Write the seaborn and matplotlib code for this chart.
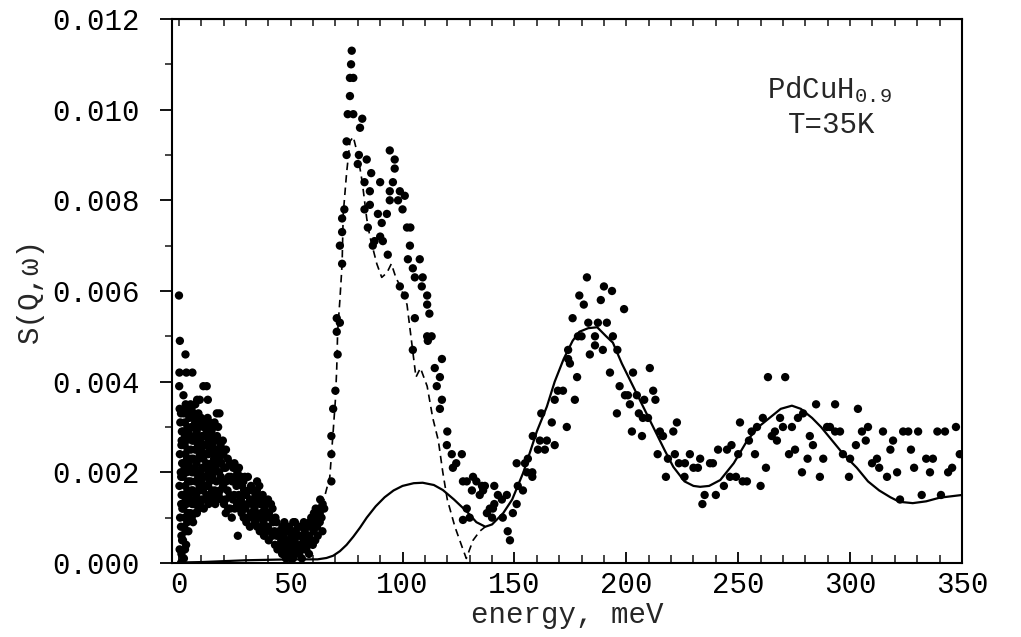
import matplotlib
matplotlib.use("Agg")
import matplotlib.pyplot as plt
import numpy as np
import pandas as pd
import seaborn as sns
from matplotlib.ticker import MultipleLocator, FormatStrFormatter

# measured points, low-energy cluster (0-66 meV)
energy_low = [
    1.0, 0.4, 1.2, 0.6, 1.1, 0.3, 0.9, 0.5, 1.3, 0.7, 0.4, 0.2, 0.3, 0.5, 0.1,
    2.3, 1.9, 2.4, 2.0, 2.5, 1.8, 2.2, 2.6, 1.9, 2.3, 2.1, 3.0,
    3.3, 3.8, 3.4, 3.9, 3.5, 3.7, 3.2, 3.9, 3.6, 3.4,
    5.2, 4.8, 5.3, 4.9, 5.4, 5.0, 4.7, 5.3,
    6.4, 6.8, 6.3, 6.9, 6.5, 6.7, 6.2, 6.6, 6.1,
    8.1, 7.8, 8.3, 7.9, 8.4, 8.0, 7.7, 8.2,
    9.6, 9.3, 9.8, 9.4, 9.7, 9.2, 9.4,
    11.2, 10.8, 11.3, 10.9, 11.4, 11.0, 11.0,
    12.4, 12.8, 12.3, 12.7, 12.5, 12.9, 12.5,
    14.1, 13.8, 14.3, 13.9, 14.2, 13.7, 13.0,
    15.6, 15.3, 15.8, 15.4, 15.7,
    17.2, 16.8, 17.3, 16.9, 17.1, 17.0,
    18.4, 18.8, 18.3, 18.7, 18.2,
    20.2, 19.8, 20.3, 19.9, 19.7,
    22.1, 21.8, 22.3, 21.9,
    23.7, 24.2, 23.9, 24.3,
    26.4, 26.1, 25.8, 26.2,
    28.1, 27.8, 28.3, 27.9,
    30.2, 29.8, 30.1, 29.5,
    31.8, 32.2, 31.9, 32.3,
    34.1, 33.8, 34.3, 35.0,
    36.2, 35.8, 36.3, 36.0,
    38.1, 37.8, 38.3, 37.5,
    40.2, 39.8, 40.3, 39.9,
    41.8, 42.2, 41.9,
    44.1, 43.8, 43.7,
    46.2, 45.8, 46.3,
    47.9, 48.3, 48.0,
    50.1, 49.8, 50.3, 51.0,
    52.2, 51.8, 52.3, 51.9,
    53.8, 54.2, 53.9, 54.3,
    56.1, 55.8, 56.3, 55.9,
    58.2, 57.8, 58.3, 58.6,
    59.9, 60.3, 60.0, 60.4,
    62.1, 61.8, 62.3, 63.0,
    64.2, 63.8, 64.3, 65.0,
]
s_low = [
    .0000, .0003, .0006, .0010, .0013, .0017, .0020, .0024, .0027, .0031, .0034, .0039, .0042, .0049, .0059,
    .0001, .0005, .0008, .0012, .0015, .0019, .0022, .0026, .0029, .0033, .0037, .0046,
    .0004, .0009, .0013, .0016, .0020, .0023, .0027, .0030, .0034, .0042,
    .0011, .0014, .0018, .0021, .0025, .0028, .0032, .0035,
    .0009, .0013, .0016, .0020, .0023, .0027, .0030, .0033, .0042,
    .0011, .0015, .0018, .0022, .0025, .0029, .0032, .0036,
    .0013, .0017, .0020, .0024, .0027, .0031, .0036,
    .0012, .0016, .0019, .0023, .0026, .0030, .0039,
    .0015, .0019, .0022, .0026, .0029, .0032, .0039,
    .0014, .0018, .0021, .0025, .0028, .0031, .0036,
    .0015, .0020, .0023, .0027, .0030,
    .0014, .0018, .0022, .0025, .0028, .0033,
    .0016, .0019, .0023, .0026, .0033,
    .0013, .0017, .0021, .0024, .0027,
    .0012, .0016, .0019, .0023,
    .0010, .0014, .0018, .0021,
    .0006, .0013, .0017, .0020,
    .0011, .0014, .0017, .0019,
    .0009, .0012, .0015, .0019,
    .0008, .0011, .0014, .0017,
    .0009, .0012, .0015, .0018,
    .0007, .0010, .0013, .0017,
    .0006, .0009, .0012, .0015,
    .0005, .0008, .0011, .0014,
    .0006, .0009, .0012,
    .0003, .0006, .0009,
    .0002, .0005, .0008,
    .0001, .0004, .0007,
    .0001, .0003, .0006, .0007,
    .0002, .0005, .0007, .0009,
    .0002, .0004, .0006, .0008,
    .0003, .0005, .0007, .0009,
    .0002, .0004, .0006, .0009,
    .0004, .0007, .0009, .0011,
    .0006, .0008, .0010, .0011,
    .0007, .0010, .0013, .0012,
]

# second, interleaved row of the same dense cluster
energy_fill = [
    1.2, 1.5, 1.0, 1.6, 1.3, 1.1, 1.5, 1.2, 1.4, 1.0,
    2.8, 3.0, 2.7, 3.1, 2.9, 2.6, 3.0, 2.8, 2.7, 3.1,
    4.3, 4.1, 4.5, 4.2, 4.4, 4.0, 4.3, 4.5,
    5.8, 6.0, 5.7, 5.9, 5.6, 6.0, 5.8, 5.7,
    7.3, 7.1, 7.5, 7.2, 7.4, 7.0, 7.3, 7.4,
    8.8, 9.0, 8.7, 8.9, 8.6, 9.0, 8.8,
    10.3, 10.1, 10.5, 10.2, 10.4, 10.0,
    11.8, 12.0, 11.7, 11.9, 11.6, 12.0,
    13.3, 13.1, 13.5, 13.2, 13.4, 13.0,
    14.8, 15.0, 14.7, 14.9, 14.6,
    16.3, 16.1, 16.5, 16.2, 16.4, 16.0,
    17.8, 18.0, 17.7, 17.9, 17.6,
    19.2, 19.4, 19.1, 19.3,
    21.0, 20.8, 21.2, 20.9, 21.1,
    23.0, 22.8, 23.2, 22.9,
    25.0, 24.8, 25.2, 24.9,
    27.0, 26.8, 27.2, 26.9,
    29.0, 28.8, 29.2, 28.9,
    31.0, 30.8, 31.2, 30.9,
    33.0, 32.8, 33.2,
    35.0, 34.8, 35.2, 34.9,
    37.0, 36.8, 37.2,
    39.0, 38.8, 39.2,
    41.0, 40.8, 41.2,
    43.0, 42.8, 43.2,
    45.0, 44.8,
    47.0, 46.8, 47.2,
    49.0, 48.8, 49.2,
    51.0, 50.8, 51.2,
    53.0, 52.8, 53.2,
    55.0, 54.8, 55.2,
    57.0, 56.8, 57.2,
    59.0, 58.8, 59.2,
    61.0, 60.8, 61.2,
    63.0, 62.8, 63.2,
]
s_fill = [
    .0002, .0005, .0008, .0012, .0015, .0019, .0022, .0026, .0029, .0033,
    .0003, .0007, .0010, .0014, .0017, .0021, .0024, .0028, .0031, .0035,
    .0007, .0011, .0015, .0018, .0022, .0025, .0029, .0033,
    .0010, .0013, .0016, .0020, .0023, .0027, .0030, .0034,
    .0011, .0014, .0018, .0021, .0025, .0028, .0031, .0035,
    .0012, .0016, .0019, .0023, .0026, .0030, .0033,
    .0014, .0018, .0021, .0025, .0028, .0032,
    .0014, .0017, .0021, .0024, .0028, .0031,
    .0013, .0017, .0020, .0024, .0027, .0030,
    .0016, .0019, .0022, .0026, .0029,
    .0013, .0016, .0021, .0024, .0027, .0031,
    .0015, .0020, .0024, .0027, .0030,
    .0014, .0018, .0022, .0025,
    .0011, .0014, .0018, .0021, .0025,
    .0012, .0015, .0019, .0022,
    .0012, .0015, .0019, .0022,
    .0012, .0015, .0018, .0021,
    .0010, .0013, .0016, .0018,
    .0010, .0013, .0016, .0019,
    .0010, .0013, .0016,
    .0008, .0011, .0014, .0016,
    .0008, .0011, .0014,
    .0007, .0010, .0013,
    .0007, .0010, .0013,
    .0004, .0007, .0010,
    .0004, .0007,
    .0003, .0006, .0009,
    .0002, .0005, .0008,
    .0001, .0004, .0009,
    .0003, .0006, .0008,
    .0001, .0004, .0006,
    .0003, .0006, .0008,
    .0005, .0008, .0010,
    .0005, .0009, .0012,
    .0009, .0012, .0014,
]

# measured points, main peak (64-151 meV)
energy_peak = [
    68.2, 68.2, 68.2, 69.0, 70.0, 71.0, 70.6, 72.0, 70.6, 72.0,
    73.0, 73.0, 73.0, 74.0, 75.0, 75.0, 75.5, 76.5, 76.5, 78.0,
    77.0, 77.3, 78.0, 82.0, 81.0, 80.5, 80.0, 84.0, 86.0, 90.0,
    83.0, 85.4, 94.3, 96.5, 96.5, 95.7, 94.3, 98.8, 101.0, 94.3,
    98.0, 100.0, 83.0, 85.4, 89.0, 93.0, 90.7, 84.5, 102.0, 103.5,
    90.0, 87.5, 91.2, 86.7, 93.4, 103.3, 102.4, 107.7, 104.6, 105.5,
    109.0, 98.8, 108.6, 111.0, 101.0, 111.0, 112.0, 111.0, 113.0, 111.3,
    105.5, 104.6, 117.6, 114.4, 116.7, 115.3, 117.6, 116.7, 120.0, 119.8,
    122.0, 126.5, 124.0, 122.5, 127.0, 131.5, 133.0, 135.5, 136.0, 134.5,
    128.7, 130.0, 127.0, 139.0, 140.0, 141.0, 128.7, 131.0, 136.8, 141.0,
    142.6, 144.4, 146.6, 140.4, 137.7, 144.8, 149.3, 147.0, 148.0, 151.0,
]
s_peak = [
    .0018, .0024, .0028, .0034, .0038, .0046, .0051, .0053, .0054, .0070,
    .0066, .0073, .0076, .0078, .0090, .0093, .0099, .0103, .0107, .0107,
    .0110, .0113, .0099, .0098, .0096, .0090, .0088, .0089, .0086, .0084,
    .0084, .0082, .0091, .0089, .0087, .0084, .0082, .0082, .0081, .0080,
    .0080, .0078, .0078, .0079, .0077, .0077, .0075, .0074, .0074, .0074,
    .0072, .0071, .0071, .0070, .0068, .0070, .0067, .0067, .0065, .0063,
    .0063, .0061, .0061, .0059, .0059, .0057, .0055, .0050, .0050, .0049,
    .0054, .0047, .0045, .0043, .0041, .0039, .0036, .0034, .0029, .0026,
    .0024, .0024, .0022, .0021, .0018, .0019, .0018, .0017, .0016, .0015,
    .0012, .0010, .00095, .0012, .0010, .0013, .0018, .0016, .0017, .0017,
    .0015, .0014, .0015, .0012, .0011, .0010, .0011, .0007, .0005, .0013,
]

# measured points, 150-350 meV
energy_high = [
    151.5, 153.8, 151.0, 154.7, 156.0, 155.6, 158.0, 158.0, 162.0, 158.2,
    161.4, 160.5, 163.6, 164.5, 166.7, 168.0, 168.0, 169.4, 171.7, 173.4,
    174.0, 174.8, 174.0, 178.0, 177.0, 176.0, 179.0, 181.0, 182.4, 178.4,
    180.0, 183.0, 187.3, 186.0, 183.7, 186.0, 189.5, 188.6, 190.0, 193.6,
    191.3, 194.0, 192.7, 196.0, 199.0, 197.0, 199.4, 200.7, 201.6, 203.0,
    195.8, 204.7, 208.0, 205.6, 207.4, 209.7, 210.5, 212.0, 213.0, 202.5,
    207.0, 215.0, 216.4, 221.0, 222.6, 214.0, 218.6, 221.7, 223.5, 226.2,
    228.4, 217.7, 226.0, 230.0, 233.0, 232.0, 237.4, 238.7, 235.0, 234.0,
    240.0, 243.6, 241.0, 245.0, 247.0, 246.3, 249.0, 250.0, 250.8, 252.0,
    253.9, 254.8, 256.0, 258.4, 257.5, 260.0, 261.0, 262.4, 263.3, 265.0,
    267.3, 266.4, 268.7, 271.0, 270.0, 272.7, 274.0, 276.7, 275.4, 278.5,
    279.0, 281.0, 282.0, 283.4, 284.8, 286.5, 288.0, 289.7, 291.0, 293.3,
    295.5, 293.3, 296.8, 300.0, 299.5, 302.6, 303.5, 305.3, 308.0, 307.0,
    309.8, 312.0, 313.0, 314.7, 316.5, 318.0, 319.2, 321.0, 322.3, 323.7,
    326.0, 327.2, 328.6, 330.4, 332.0, 334.0, 335.7, 337.0, 339.0, 340.6,
    342.4, 343.8, 345.6, 347.3, 349.0,
]
s_high = [
    .0017, .0016, .0022, .0022, .0023, .0020, .0020, .0019, .0033, .0028,
    .0027, .0025, .0025, .0027, .0031, .0026, .0036, .0038, .0038, .0030,
    .0045, .0044, .0047, .0041, .0036, .0054, .0059, .0057, .0063, .0050,
    .0050, .0053, .0053, .0050, .0046, .0048, .0047, .0058, .0061, .0060,
    .0053, .0050, .0042, .0047, .0056, .0039, .0037, .0037, .0035, .0042,
    .0033, .0037, .0036, .0033, .0032, .0032, .0043, .0038, .0036, .0029,
    .0028, .0029, .0028, .0029, .0031, .0024, .0023, .0024, .0022, .0022,
    .0024, .0019, .0019, .0021, .0023, .0021, .0022, .0022, .0015, .0013,
    .0015, .0017, .0025, .0025, .0026, .0019, .0019, .0024, .0031, .0018,
    .0018, .0027, .0029, .0030, .0024, .0017, .0032, .0021, .0041, .0028,
    .0027, .0029, .0032, .0041, .0030, .0024, .0030, .0032, .0025, .0020,
    .0033, .0023, .0028, .0026, .0035, .0019, .0023, .0030, .0030, .0029,
    .0029, .0035, .0024, .0023, .0019, .0026, .0034, .0029, .0030, .0027,
    .0022, .0023, .0021, .0029, .0019, .0025, .0027, .0020, .0014, .0029,
    .0029, .0025, .0021, .0029, .0015, .0023, .0020, .0023, .0029, .0015,
    .0029, .0020, .0021, .0030, .0024,
]

# calculated curves
solid_e = [0, 10, 20, 30, 40, 50, 56, 62, 66, 69, 72, 75, 78, 81, 84, 88, 92,
           96, 100, 105, 109, 114, 118, 123, 129, 133, 137, 140, 145, 149,
           154, 160, 164.5, 168, 172, 176, 179, 183, 187, 191, 194, 198, 203,
           208, 212, 217, 221, 226, 230, 233, 237, 242, 248, 254, 259, 264,
           269, 274, 278, 283, 287, 292, 297, 303, 308, 313, 318, 322, 328,
           334, 340, 345, 350]
solid_s = [.00001, .00002, .00004, .00006, .00007, .00008, .00008, .00008,
           .00011, .00016, .00026, .0004, .00058, .00078, .0010, .00125,
           .00145, .0016, .0017, .00176, .00177, .00172, .00161, .0014,
           .00112, .0009, .0008, .00085, .0011, .0014, .0020, .0029, .00345,
           .0040, .0045, .0049, .0051, .00518, .0052, .0050, .00486, .0044,
           .0039, .0034, .0030, .0025, .00212, .0018, .0017, .00168, .0017,
           .00183, .0022, .0027, .0030, .0032, .0034, .00347, .0034, .0032,
           .0030, .0027, .0024, .0021, .0018, .0016, .00145, .00135, .00132,
           .00136, .00144, .00147, .0015]

dash_e = [62, 64, 67.5, 69, 70, 70.6, 71, 72, 73, 73.5, 75, 76.5, 78, 80, 82,
          84, 85.4, 88.5, 90.7, 93, 95, 97, 99, 102, 104, 106, 108, 111,
          113.5, 116, 118, 120, 123.4, 127, 128.5, 131.5, 134.5, 137]
dash_s = [.0010, .00124, .0019, .0029, .0036, .0043, .0051, .0058, .0066,
          .0077, .0086, .0093, .0094, .0090, .0084, .0076, .0072, .0066,
          .0063, .0064, .0066, .0063, .0061, .0057, .0049, .0041, .0043,
          .0039, .0032, .0027, .0020, .0014, .0008, .0003, .0001, .0005,
          .0007, .0008]

sns.set_style("ticks")
plt.rcParams["font.family"] = ["Liberation Mono", "DejaVu Sans"]
plt.rcParams["mathtext.fontset"] = "custom"
plt.rcParams["mathtext.rm"] = "Liberation Mono"
plt.rcParams["mathtext.it"] = "Liberation Mono:italic"

pts = pd.DataFrame({
    "energy": energy_low + energy_fill + energy_peak + energy_high,
    "s": s_low + s_fill + s_peak + s_high,
})

fig = plt.figure(figsize=(10.21, 6.37), dpi=100)
ax = fig.add_axes([0.1685, 0.1162, 0.7737, 0.854])

sns.scatterplot(data=pts, x="energy", y="s", color="black", s=36,
                edgecolor="none", legend=False, ax=ax, zorder=3)
sns.lineplot(x=solid_e, y=solid_s, color="black", lw=1.6, sort=False,
             estimator=None, ax=ax)
sns.lineplot(x=dash_e, y=dash_s, color="black", lw=1.2, sort=False,
             estimator=None, ax=ax, linestyle=(0, (4.5, 3)))

ax.set_xlim(-3, 350)
ax.set_ylim(0, 0.012)
ax.xaxis.set_major_locator(MultipleLocator(50))
ax.xaxis.set_minor_locator(MultipleLocator(10))
ax.yaxis.set_major_locator(MultipleLocator(0.002))
ax.yaxis.set_minor_locator(MultipleLocator(0.001))
ax.yaxis.set_major_formatter(FormatStrFormatter("%.3f"))

for sp in ax.spines.values():
    sp.set_linewidth(1.5)
    sp.set_color("black")

ax.tick_params(axis="y", which="major", direction="out", length=9, width=1.3,
               pad=14, labelsize=21, colors="black")
ax.tick_params(axis="y", which="minor", direction="out", length=5, width=1.2)
ax.tick_params(axis="x", which="major", direction="in", length=8, width=1.3,
               pad=6, labelsize=21, colors="black")
ax.tick_params(axis="x", which="minor", direction="in", length=6, width=1.2)

top = ax.secondary_xaxis("top")
top.set_xticks(np.arange(0, 351, 10))
top.tick_params(direction="in", length=5, width=1.2, labeltop=False)

ax.set_xlabel("energy, meV", fontsize=21, labelpad=1)
ax.set_ylabel("S(Q,ω)", fontsize=21, labelpad=6)

ax.text(0.753, 0.855, "PdCuH$_{0.9}$", transform=ax.transAxes, fontsize=21,
        va="baseline", ha="left")
ax.text(0.780, 0.790, "T=35K", transform=ax.transAxes, fontsize=21,
        va="baseline", ha="left")

fig.savefig("out.png", dpi=100)
